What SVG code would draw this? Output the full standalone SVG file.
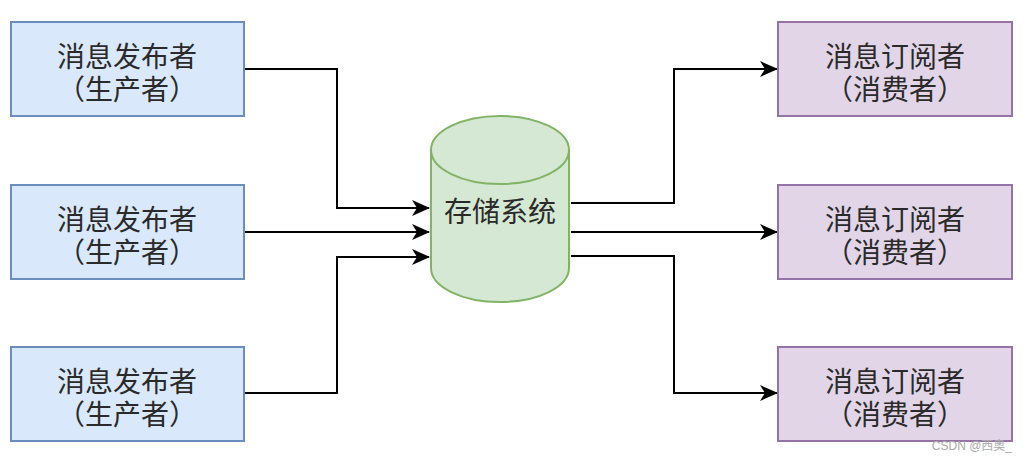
<svg xmlns="http://www.w3.org/2000/svg" width="1027" height="460" viewBox="0 0 1027 460">
<defs>
<marker id="arr" viewBox="0 0 18 16" refX="17" refY="8" markerWidth="18" markerHeight="16" markerUnits="userSpaceOnUse" orient="auto">
<path d="M0,0 L18,8 L0,16 L5,8 Z" fill="#000"/>
</marker>
</defs>
<style>
.pub{fill:#dae8fc;stroke:#6c8ebf;stroke-width:2}
.sub{fill:#e1d5e7;stroke:#9673a6;stroke-width:2}
.db{fill:#d5e8d4;stroke:#82b366;stroke-width:2}
.t{font-family:"Liberation Sans","Noto Sans CJK SC",sans-serif;font-size:28px;fill:#2a2a2a;text-anchor:middle}
.c{fill:none;stroke:#000;stroke-width:2;marker-end:url(#arr)}
</style>
<rect width="1027" height="460" fill="#fff"/>
<g id="connectors">
<path class="c" d="M244,69 H337 V208 H429"/>
<path class="c" d="M244,232 H429"/>
<path class="c" d="M244,393 H337 V257 H429"/>
<path class="c" d="M571,203 H674 V69 H777"/>
<path class="c" d="M571,232 H777"/>
<path class="c" d="M571,256 H674 V393 H777"/>
</g>
<g id="pub1"><rect class="pub" x="11" y="22" width="233" height="94"/><text class="t" x="127" y="67">消息发布者</text><text class="t" x="127" y="100">（生产者）</text></g>
<g id="pub2"><rect class="pub" x="11" y="185" width="233" height="94"/><text class="t" x="127" y="230">消息发布者</text><text class="t" x="127" y="263">（生产者）</text></g>
<g id="pub3"><rect class="pub" x="11" y="347" width="233" height="94"/><text class="t" x="127" y="392">消息发布者</text><text class="t" x="127" y="425">（生产者）</text></g>
<g id="storage">
<path class="db" d="M431,150 A69,34 0 0 1 569,150 V268 A69,34 0 0 1 431,268 Z"/>
<path fill="none" stroke="#82b366" stroke-width="2" d="M431,150 A69,34 0 0 0 569,150"/>
<text class="t" x="500" y="222">存储系统</text>
</g>
<g id="sub1"><rect class="sub" x="778" y="22" width="234" height="94"/><text class="t" x="895" y="67">消息订阅者</text><text class="t" x="895" y="100">（消费者）</text></g>
<g id="sub2"><rect class="sub" x="778" y="185" width="234" height="94"/><text class="t" x="895" y="230">消息订阅者</text><text class="t" x="895" y="263">（消费者）</text></g>
<g id="sub3"><rect class="sub" x="778" y="347" width="234" height="94"/><text class="t" x="895" y="392">消息订阅者</text><text class="t" x="895" y="425">（消费者）</text></g>
<text x="1012" y="450" font-family="'Liberation Sans','Noto Sans CJK SC',sans-serif" font-size="12" fill="#aaa" text-anchor="end">CSDN @西奥_</text>
</svg>
